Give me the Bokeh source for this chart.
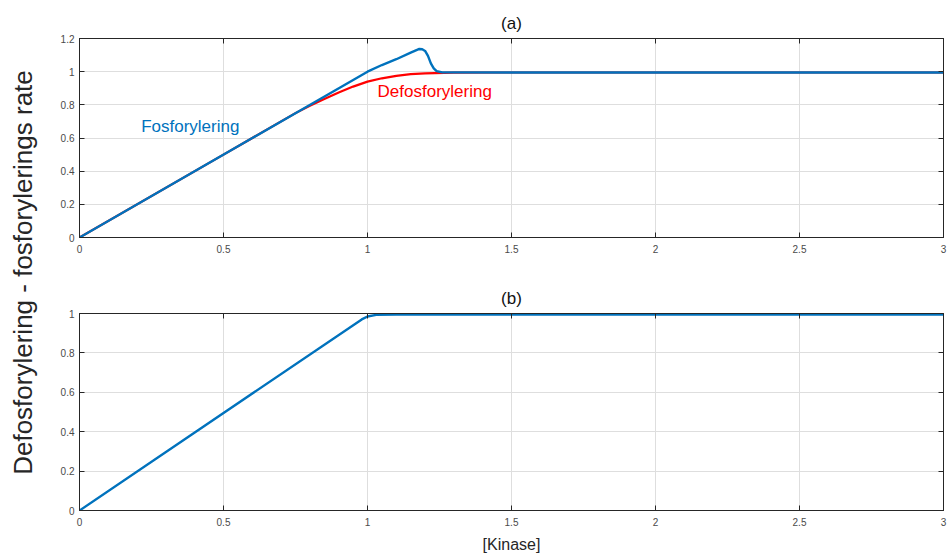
from math import pi
from bokeh.plotting import figure
from bokeh.layouts import row, column
from bokeh.models import Label, LinearAxis, FixedTicker, Range1d
from bokeh.embed import file_html
from bokeh.resources import INLINE

# ---- data ----
# panel (a): phosphorylation (blue) and dephosphorylation (red) rate vs [Kinase]
fos_x = [0.0, 1.0, 1.05, 1.1, 1.15, 1.17, 1.18, 1.19, 1.2, 1.21, 1.22, 1.23, 1.24, 1.26, 1.5, 2.0, 3.0]
fos_y = [0.0, 1.0, 1.04, 1.075, 1.115, 1.13, 1.137, 1.135, 1.125, 1.095, 1.05, 1.02, 1.003, 0.996, 0.995, 0.995, 0.995]

defos_x = [0.0, 0.5, 0.75, 0.8, 0.85, 0.9, 0.95, 1.0, 1.05, 1.1, 1.15, 1.2, 1.3, 1.5, 2.0, 3.0]
defos_y = [0.0, 0.5, 0.75, 0.795, 0.835, 0.875, 0.91, 0.94, 0.96, 0.975, 0.985, 0.99, 0.994, 0.995, 0.995, 0.995]

# panel (b)
b_x = [0.0, 0.98, 1.0, 1.03, 1.1, 2.0, 3.0]
b_y = [0.0, 0.97, 0.985, 0.993, 0.995, 0.995, 0.995]

x_ticks = [0, 0.5, 1, 1.5, 2, 2.5, 3]
x_tick_labels = ["0", "0.5", "1", "1.5", "2", "2.5", "3"]
ya_ticks = [0, 0.2, 0.4, 0.6, 0.8, 1.0, 1.2]
ya_tick_labels = ["0", "0.2", "0.4", "0.6", "0.8", "1", "1.2"]
yb_ticks = [0, 0.2, 0.4, 0.6, 0.8, 1.0]
yb_tick_labels = ["0", "0.2", "0.4", "0.6", "0.8", "1"]

FONT = "Liberation Sans"
BLUE = "#0072BD"
RED = "#FF0000"
AX = "#262626"
TICKLBL = "#4a4a4a"


def make_panel(title, ymax, yticks, ylabels, height, bt, bb, xlabel=None):
    p = figure(width=899, height=height, x_range=Range1d(0, 3), y_range=Range1d(0, ymax),
               output_backend="svg", toolbar_location=None,
               min_border_left=31, min_border_right=4, min_border_top=bt, min_border_bottom=bb)
    top_ax = LinearAxis()
    right_ax = LinearAxis()
    for ax in (top_ax, right_ax):
        ax.major_label_text_font_size = "0px"
        ax.major_label_text_color = None
        ax.major_label_standoff = 0
    p.add_layout(top_ax, "above")
    p.add_layout(right_ax, "right")
    p.title.text = title
    p.title.align = "center"
    p.title.text_font = FONT
    p.title.text_font_size = "17px"
    p.title.text_font_style = "normal"
    p.title.text_color = "#111111"
    p.title.standoff = 12
    for ax in p.xaxis:
        ax.ticker = FixedTicker(ticks=x_ticks)
        ax.major_label_overrides = {t: l for t, l in zip(x_ticks, x_tick_labels)}
    for ax in p.yaxis:
        ax.ticker = FixedTicker(ticks=yticks)
        ax.major_label_overrides = {t: l for t, l in zip(yticks, ylabels)}
    for ax in p.xaxis + p.yaxis:
        ax.major_tick_in = 5
        ax.major_tick_out = 0
        ax.minor_tick_line_color = None
        ax.major_tick_line_color = AX
        ax.axis_line_color = AX
        ax.major_label_text_font = FONT
    for ax in (p.below[0], p.left[0]):
        ax.major_label_text_font_size = "10px"
        ax.major_label_text_color = TICKLBL
    p.below[0].major_label_standoff = 7
    p.left[0].major_label_standoff = 5
    if xlabel:
        p.below[0].axis_label = xlabel
        p.below[0].axis_label_text_font = FONT
        p.below[0].axis_label_text_font_size = "16px"
        p.below[0].axis_label_text_font_style = "normal"
        p.below[0].axis_label_text_color = AX
        p.below[0].axis_label_standoff = 7
    p.xgrid.ticker = FixedTicker(ticks=x_ticks)
    p.ygrid.ticker = FixedTicker(ticks=yticks)
    p.grid.grid_line_color = "#dedede"
    p.outline_line_color = AX
    p.outline_line_alpha = 1
    return p


p1 = make_panel("(a)", 1.2, ya_ticks, ya_tick_labels, 270, 38, 33)
p1.line(defos_x, defos_y, line_color=RED, line_width=2.2)
p1.line(fos_x, fos_y, line_color=BLUE, line_width=2.4)
p1.add_layout(Label(x=0.214, y=0.67, text="Fosforylering", text_color=BLUE, text_font=FONT,
                    text_font_size="17px", text_baseline="middle", text_align="left"))
p1.add_layout(Label(x=1.035, y=0.88, text="Defosforylering", text_color=RED, text_font=FONT,
                    text_font_size="17px", text_baseline="middle", text_align="left"))

p2 = make_panel("(b)", 1.0, yb_ticks, yb_tick_labels, 285, 43, 41, xlabel="[Kinase]")
p2.line(b_x, b_y, line_color=BLUE, line_width=2.4)

lab = figure(width=48, height=555, output_backend="svg", toolbar_location=None,
             x_range=Range1d(0, 1), y_range=Range1d(0, 1), min_border=0)
lab.axis.visible = False
lab.grid.visible = False
lab.outline_line_color = None
lab.add_layout(Label(x=22, y=283, x_units="screen", y_units="screen", angle=pi / 2,
                     text="Defosforylering - fosforylerings rate", text_font=FONT,
                     text_font_size="26px", text_color=AX, text_align="center",
                     text_baseline="middle"))

layout = row(lab, column(p1, p2, spacing=0), spacing=0)
open("out.html", "w").write(file_html(layout, INLINE))
